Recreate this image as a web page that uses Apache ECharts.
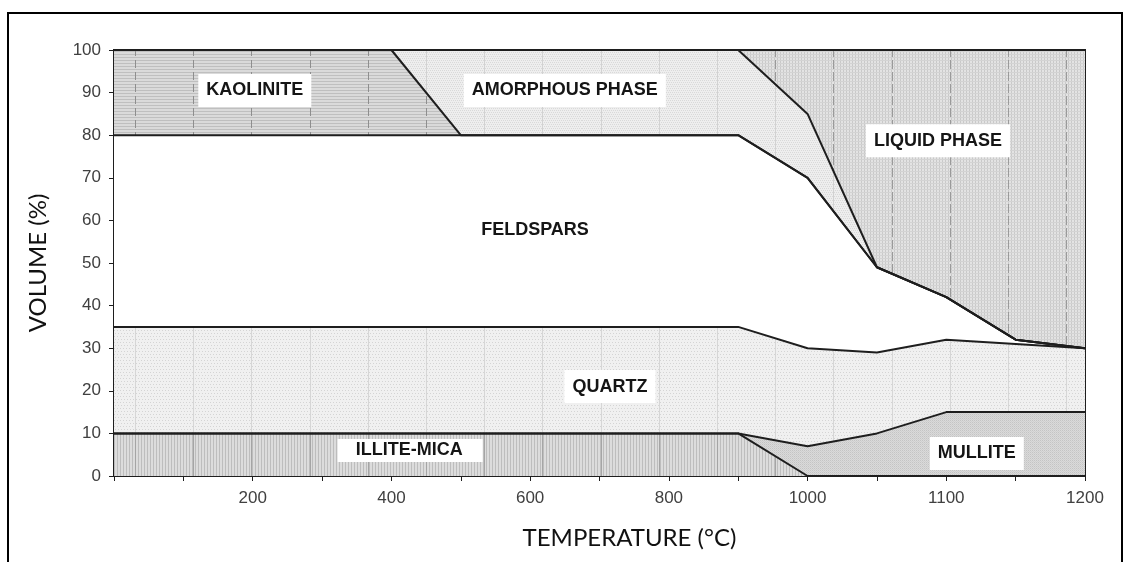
<!DOCTYPE html>
<html>
<head>
<meta charset="utf-8">
<script src="https://cdn.jsdelivr.net/npm/echarts@6/dist/echarts.min.js"></script>
<style>
  html, body { margin: 0; padding: 0; background: #ffffff; }
  #chart { width: 1132px; height: 562px; }
</style>
</head>
<body>
<div id="chart"></div>
<script>
// Firing temperature steps (°C) — category axis, labels on every second step
const temperatures = ['0', '100', '200', '300', '400', '500', '600', '700', '800', '900', '1000', '1050', '1100', '1150', '1200'];

// Phase volumes (%) per temperature step, stacked from the bottom up
const illiteMica = [10, 10, 10, 10, 10, 10, 10, 10, 10, 10, 0, 0, 0, 0, 0];
const mullite    = [0, 0, 0, 0, 0, 0, 0, 0, 0, 0, 7, 10, 15, 15, 15];
const quartz     = [25, 25, 25, 25, 25, 25, 25, 25, 25, 25, 23, 19, 17, 16, 15];
const feldspars  = [45, 45, 45, 45, 45, 45, 45, 45, 45, 45, 40, 20, 10, 1, 0];
const kaolinite  = [20, 20, 20, 20, 20, 0, 0, 0, 0, 0, 0, 0, 0, 0, 0];
const amorphous  = [0, 0, 0, 0, 0, 20, 20, 20, 20, 20, 15, 0, 0, 0, 0];
const liquid     = [0, 0, 0, 0, 0, 0, 0, 0, 0, 0, 15, 51, 58, 68, 70];

// Y axis ticks
const volumeTicks = { min: 0, max: 100, step: 10 };

// Region captions: text, category position (may fall between steps), volume
const captionText   = ['KAOLINITE', 'AMORPHOUS PHASE', 'LIQUID PHASE', 'FELDSPARS', 'QUARTZ', 'ILLITE-MICA', 'MULLITE'];
const captionAtStep = [2.03, 6.5, 11.88, 6.07, 7.15, 4.27, 12.44];
const captionAtVol  = [90.5, 90.5, 78.7, 57.8, 21, 6.0, 5.3];

// ---------- fill textures ----------
// Tiles are 291 px wide so a faint vertical rule repeats every ~58 px.
const RULES = [19, 77, 135, 193, 251];

function makeTile(w, h, draw) {
  const c = document.createElement('canvas');
  c.width = w; c.height = h;
  const g = c.getContext('2d');
  draw(g, w, h);
  return { image: c, repeat: 'repeat' };
}
function fillBase(g, w, h, col) { g.fillStyle = col; g.fillRect(0, 0, w, h); }
function hLines(g, w, h, step, col) {
  g.fillStyle = col;
  for (let y = 0; y < h; y += step) g.fillRect(0, y, w, 1);
}
function vLines(g, w, h, step, col) {
  g.fillStyle = col;
  for (let x = 0; x < w; x += step) g.fillRect(x, 0, 1, h);
}
function dots(g, w, h, step, col, shift) {
  g.fillStyle = col;
  for (let y = 0; y < h; y += step) {
    const off = ((y / step) % 2) * shift;
    for (let x = off; x < w; x += step) g.fillRect(x, y, 1, 1);
  }
}
function rules(g, h, col, dash) {
  g.fillStyle = col;
  RULES.forEach(x => {
    if (!dash) { g.fillRect(x, 0, 1, h); return; }
    for (let y = 0; y < h; y += dash[0] + dash[1]) g.fillRect(x, y, 1, dash[0]);
  });
}

const kaoliniteFill = makeTile(291, 12, (g, w, h) => {
  fillBase(g, w, h, '#dadada');
  hLines(g, w, h, 3, '#bfbfbf');
  rules(g, h, '#8e8e8e', [8, 4]);
});
const amorphousFill = makeTile(291, 4, (g, w, h) => {
  fillBase(g, w, h, '#eeeeee');
  dots(g, w, h, 2, '#d9d9d9', 1);
  rules(g, h, '#d2d2d2');
});
const liquidFill = makeTile(291, 12, (g, w, h) => {
  fillBase(g, w, h, '#e3e3e3');
  vLines(g, w, h, 3, '#c9c9c9');
  hLines(g, w, h, 3, '#d3d3d3');
  rules(g, h, '#9a9a9a', [9, 3]);
});
const quartzFill = makeTile(291, 6, (g, w, h) => {
  fillBase(g, w, h, '#f0f0f0');
  dots(g, w, h, 3, '#d4d4d4', 1);
  rules(g, h, '#d6d6d6');
});
const illiteFill = makeTile(291, 4, (g, w, h) => {
  fillBase(g, w, h, '#dcdcdc');
  vLines(g, w, h, 3, '#bdbdbd');
  rules(g, h, '#a5a5a5');
});
const mulliteFill = makeTile(2, 2, (g, w, h) => {
  fillBase(g, w, h, '#dadada');
  g.fillStyle = '#c4c4c4'; g.fillRect(0, 0, 1, 1);
  g.fillStyle = '#cfcfcf'; g.fillRect(1, 1, 1, 1);
});

const layers = [
  { name: 'ILLITE-MICA',     data: illiteMica, fill: illiteFill },
  { name: 'MULLITE',         data: mullite,    fill: mulliteFill },
  { name: 'QUARTZ',          data: quartz,     fill: quartzFill },
  { name: 'FELDSPARS',       data: feldspars,  fill: '#ffffff' },
  { name: 'KAOLINITE',       data: kaolinite,  fill: kaoliniteFill },
  { name: 'AMORPHOUS PHASE', data: amorphous,  fill: amorphousFill },
  { name: 'LIQUID PHASE',    data: liquid,     fill: liquidFill }
];

const series = [];
// filled bands
layers.forEach(l => series.push({
  name: l.name, type: 'line', stack: 'bands', data: l.data,
  symbol: 'none', silent: true, z: 2,
  lineStyle: { width: 0, opacity: 0 },
  areaStyle: { color: l.fill, opacity: 1 }
}));
// phase boundaries drawn over the fills
layers.forEach(l => series.push({
  name: l.name + ' edge', type: 'line', stack: 'edges', data: l.data,
  symbol: 'none', silent: true, z: 3,
  lineStyle: { color: '#1e1e1e', width: 2 }
}));

const chart = echarts.init(document.getElementById('chart'), null, { renderer: 'canvas' });

chart.setOption({
  animation: false,
  backgroundColor: '#ffffff',
  grid: {
    left: 114, right: 47, top: 50, bottom: 86,
    show: true, borderColor: '#1e1e1e', borderWidth: 2, backgroundColor: 'transparent'
  },
  xAxis: {
    type: 'category',
    data: temperatures,
    boundaryGap: false,
    name: 'TEMPERATURE (°C)',
    nameLocation: 'middle',
    nameGap: 50,
    nameTextStyle: {
      fontFamily: 'Lato', fontSize: 24, color: '#111111',
      padding: [0, 0, 0, 60]
    },
    axisLine: { show: true, lineStyle: { color: '#1e1e1e', width: 2 } },
    axisTick: { show: true, interval: 0, length: 5, lineStyle: { color: '#1e1e1e', width: 1 } },
    axisLabel: {
      interval: (i) => i > 0 && i % 2 === 0,
      margin: 14,
      fontFamily: 'Liberation Sans, Arial', fontSize: 17, color: '#404040'
    },
    splitLine: { show: false }
  },
  yAxis: {
    type: 'value',
    min: volumeTicks.min, max: volumeTicks.max, interval: volumeTicks.step,
    name: 'VOLUME (%)',
    nameLocation: 'middle',
    nameGap: 64,
    nameTextStyle: { fontFamily: 'Lato', fontSize: 24, color: '#111111' },
    axisLine: { show: true, lineStyle: { color: '#1e1e1e', width: 2 } },
    axisTick: { show: true, length: 5, lineStyle: { color: '#1e1e1e', width: 1 } },
    axisLabel: {
      margin: 13,
      fontFamily: 'Liberation Sans, Arial', fontSize: 17, color: '#404040'
    },
    splitLine: { show: false }
  },
  series: series
});

// Map a (possibly fractional) category position and volume to pixels using the grid
function toPixel(step, vol) {
  const lo = Math.floor(step), hi = Math.min(lo + 1, temperatures.length - 1);
  const a = chart.convertToPixel({ gridIndex: 0 }, [lo, vol]);
  const b = chart.convertToPixel({ gridIndex: 0 }, [hi, vol]);
  const t = step - lo;
  return [a[0] + (b[0] - a[0]) * t, a[1]];
}

const captionGraphics = captionText.map((t, i) => {
  const p = toPixel(captionAtStep[i], captionAtVol[i]);
  const plain = t === 'FELDSPARS';
  return {
    type: 'text', z: 50,
    x: p[0], y: p[1],
    style: {
      text: t,
      font: 'bold 18px "Liberation Sans", Arial, sans-serif',
      fill: '#151515',
      align: 'center', verticalAlign: 'middle',
      backgroundColor: plain ? 'transparent' : '#ffffff',
      padding: t === 'ILLITE-MICA' ? [3, 20, 2, 18] : [8, 8, 7, 8]
    }
  };
});

chart.setOption({
  graphic: [
    {
      type: 'rect', z: 60, silent: true,
      shape: { x: 8, y: 13, width: 1114, height: 600 },
      style: { fill: 'none', stroke: '#000000', lineWidth: 2 }
    }
  ].concat(captionGraphics)
});
</script>
</body>
</html>
